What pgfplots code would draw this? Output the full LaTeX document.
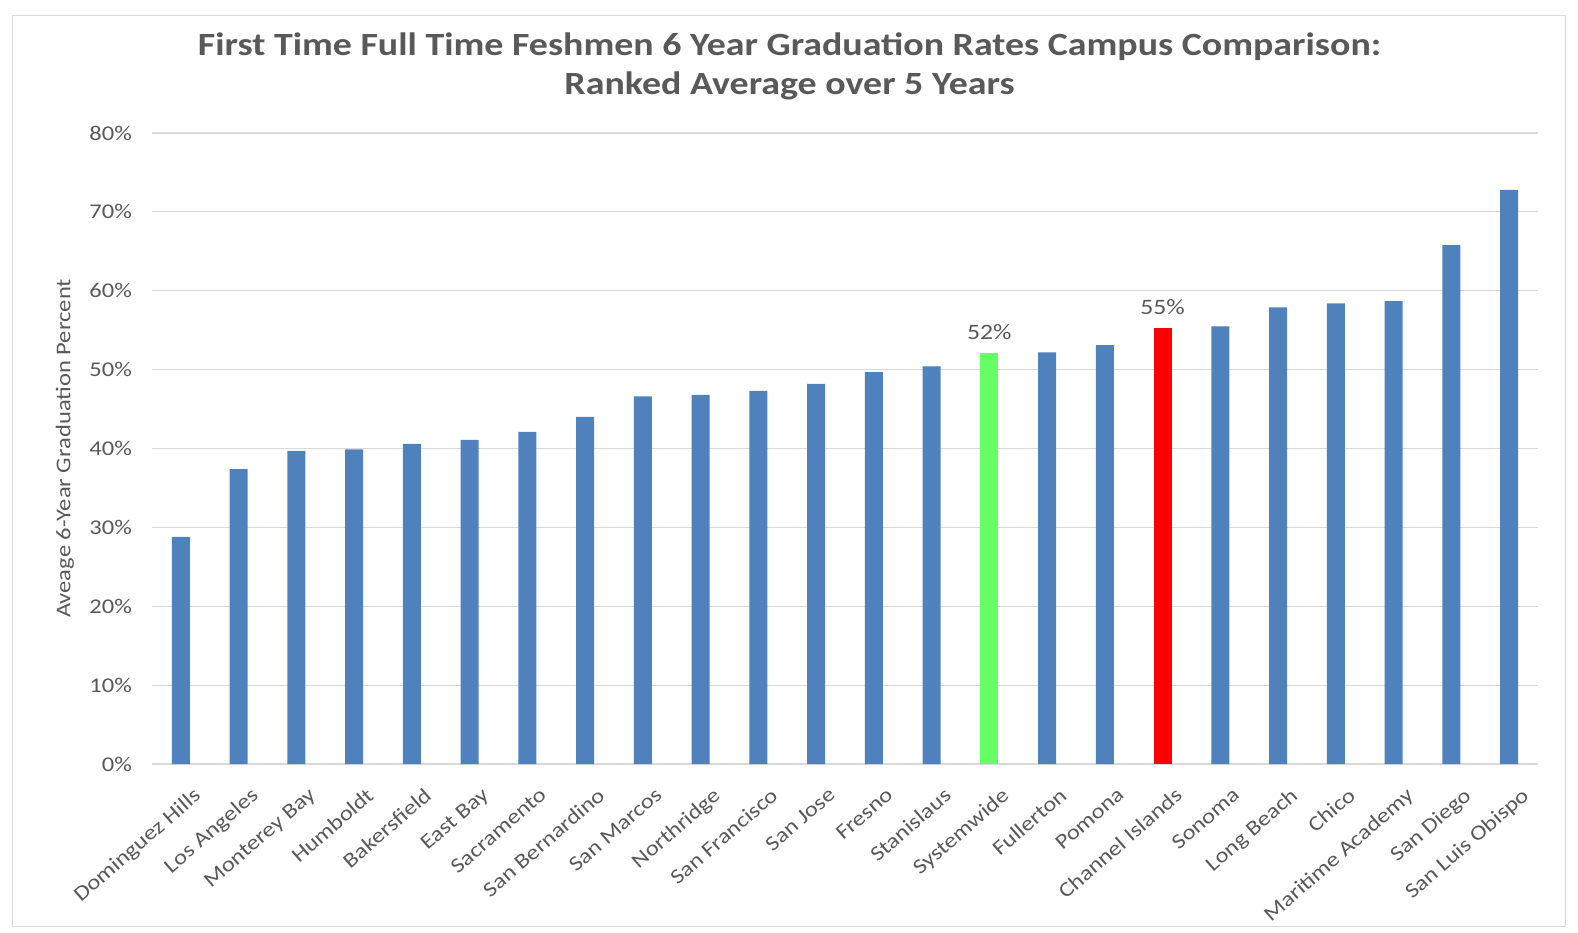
\documentclass[border=0pt]{standalone}
\usepackage{pgfplots}
\pgfplotsset{compat=1.18}
\usepackage{fontspec}
\setmainfont{Carlito}[FakeStretch=1.17]
\definecolor{barblue}{HTML}{4F81BD}
\definecolor{bargreen}{HTML}{66FF66}
\definecolor{barred}{HTML}{FF0000}
\definecolor{txtgray}{HTML}{595959}
\definecolor{gridgray}{HTML}{D9D9D9}

\begin{document}
\begin{tikzpicture}
\useasboundingbox (-76pt,-84pt) rectangle (713pt,382pt);
\draw[gridgray] (-70pt,-81pt) rectangle (706.5pt,374.5pt);
\begin{axis}[
    at={(0pt,0pt)}, anchor=south west,
    scale only axis,
    width=693pt, height=315.5pt,
    ymin=0, ymax=80,
    xmin=-0.5, xmax=23.5,
    ytick={0,10,...,80},
    yticklabel={\pgfmathprintnumber{\tick}\%},
    xtick={0,...,23},
    xticklabels={Dominguez Hills, Los Angeles, Monterey Bay, Humboldt, Bakersfield, East Bay, Sacramento, San Bernardino, San Marcos, Northridge, San Francisco, San Jose, Fresno, Stanislaus, Systemwide, Fullerton, Pomona, Channel Islands, Sonoma, Long Beach, Chico, Maritime Academy, San Diego, San Luis Obispo},
    /pgf/number format/assume math mode=true,
    axis lines*=left,
    y axis line style={draw=none},
    x axis line style={gridgray, line width=1pt},
    major tick length=0pt,
    ymajorgrids,
    grid style={gridgray, line width=0.6pt},
    tick label style={font=\fontsize{10.5}{12}\selectfont, text=txtgray},
    yticklabel style={xshift=-6.5pt},
    xticklabel style={rotate=41, anchor=north east, inner sep=1pt, xshift=-2pt, yshift=-11pt},
    ylabel={Aveage 6-Year Graduation Percent},
    ylabel style={at={(axis description cs:-0.0628,0.5)}, anchor=center, font=\fontsize{10.5}{12}\selectfont, text=txtgray},
    ybar, bar width=9pt, bar shift=0pt,
    clip=false,
]
\addplot[fill=barblue, draw=none] coordinates {
    (0,28.8) (1,37.4) (2,39.7) (3,39.9) (4,40.6) (5,41.1) (6,42.1) (7,44.0)
    (8,46.6) (9,46.8) (10,47.3) (11,48.2) (12,49.7) (13,50.4)
    (15,52.2) (16,53.1) (18,55.5) (19,57.9) (20,58.4) (21,58.7) (22,65.8) (23,72.8)
};
\addplot[fill=bargreen, draw=none, nodes near coords={\pgfmathprintnumber[fixed,precision=0]{\pgfplotspointmeta}\%},
    nodes near coords style={font=\fontsize{11}{13}\selectfont, text=txtgray, yshift=3pt}] coordinates {
    (14,52.1)
};
\addplot[fill=barred, draw=none, nodes near coords={\pgfmathprintnumber[fixed,precision=0]{\pgfplotspointmeta}\%},
    nodes near coords style={font=\fontsize{11}{13}\selectfont, text=txtgray, yshift=3pt}] coordinates {
    (17,55.3)
};
\node[align=center, font=\bfseries\fontsize{16.2}{19.5}\selectfont, text=txtgray]
    at (rel axis cs:0.460,1.106) {First Time Full Time Feshmen 6 Year Graduation Rates Campus Comparison:\\Ranked Average over 5 Years};
\end{axis}
\end{tikzpicture}
\end{document}
